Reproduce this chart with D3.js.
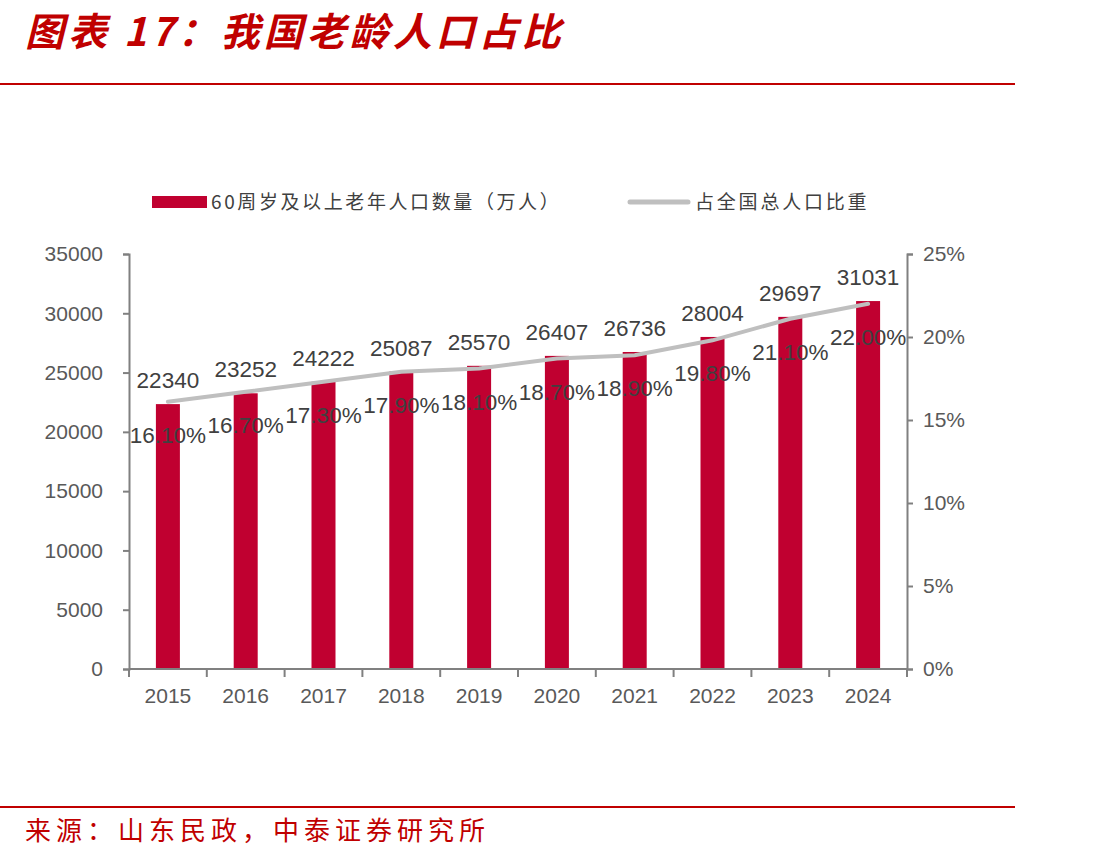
<!DOCTYPE html>
<html>
<head>
<meta charset="utf-8">
<script src="https://cdn.jsdelivr.net/npm/d3@7"></script>
<style>
  body { margin: 0; background: #fff; }
  svg { display: block; }
  .tick text { font-family: "Liberation Sans", Arial, sans-serif; font-size: 21px; fill: #595959; }
  .tick line, .domain { stroke: #808080; stroke-width: 2; }
</style>
</head>
<body>
<svg id="chart" width="1110" height="860"></svg>
<script>
  const years = ["2015", "2016", "2017", "2018", "2019", "2020", "2021", "2022", "2023", "2024"];
  const elderly = [22340, 23252, 24222, 25087, 25570, 26407, 26736, 28004, 29697, 31031];
  const share = [16.1, 16.7, 17.3, 17.9, 18.1, 18.7, 18.9, 19.8, 21.1, 22.0];
  const leftTicks = [0, 5000, 10000, 15000, 20000, 25000, 30000, 35000];
  const rightTicks = [0, 5, 10, 15, 20, 25];

  const red = "#c00000";
  const barColor = "#c00030";
  const lineColor = "#bfbfbf";
  const cjk = '"Noto Sans CJK SC", sans-serif';

  const svg = d3.select("#chart");
  const m = { left: 129, right: 907, top: 254, bottom: 669 };

  // header / footer
  svg.append("text")
    .attr("x", 25).attr("y", 46)
    .attr("fill", red)
    .attr("font-family", cjk)
    .attr("font-size", 39)
    .attr("font-weight", "bold")
    .attr("font-style", "italic")
    .attr("letter-spacing", 4)
    .text("图表 17：我国老龄人口占比");
  svg.append("line")
    .attr("x1", 0).attr("x2", 1015).attr("y1", 84).attr("y2", 84)
    .attr("stroke", red).attr("stroke-width", 2);
  svg.append("line")
    .attr("x1", 0).attr("x2", 1015).attr("y1", 807).attr("y2", 807)
    .attr("stroke", red).attr("stroke-width", 2);
  svg.append("text")
    .attr("x", 25).attr("y", 840)
    .attr("fill", red)
    .attr("font-family", cjk)
    .attr("font-size", 26)
    .attr("letter-spacing", 5)
    .text("来源：山东民政，中泰证券研究所");

  const x = d3.scaleBand().domain(years).range([m.left, m.right]);
  const yL = d3.scaleLinear().domain([0, 35000]).range([m.bottom, m.top]);
  const yR = d3.scaleLinear().domain([0, 25]).range([m.bottom, m.top]);
  const barW = 24;

  // bars
  svg.append("g").selectAll("rect")
    .data(elderly)
    .join("rect")
      .attr("x", (d, i) => x(years[i]) + x.bandwidth() / 2 - barW / 2)
      .attr("y", d => yL(d))
      .attr("width", barW)
      .attr("height", d => m.bottom - yL(d))
      .attr("fill", barColor);

  // axes
  svg.append("g")
    .attr("transform", `translate(${m.left},0)`)
    .call(d3.axisLeft(yL).tickValues(leftTicks).tickSize(6).tickPadding(20).tickFormat(d3.format("d")));
  svg.append("g")
    .attr("transform", `translate(${m.right},0)`)
    .call(d3.axisRight(yR).tickValues(rightTicks).tickSize(6).tickPadding(10).tickFormat(d => d + "%"));

  const xAxis = svg.append("g").attr("transform", `translate(0,${m.bottom})`);
  xAxis.append("line")
    .attr("class", "domain")
    .attr("x1", m.left).attr("x2", m.right);
  xAxis.selectAll("line.tk")
    .data(d3.range(years.length + 1))
    .join("line")
      .attr("class", "tk")
      .attr("x1", i => m.left + i * x.step())
      .attr("x2", i => m.left + i * x.step())
      .attr("y1", 0).attr("y2", 8)
      .attr("stroke", "#808080").attr("stroke-width", 2);
  xAxis.selectAll("text")
    .data(years)
    .join("text")
      .attr("x", d => x(d) + x.bandwidth() / 2)
      .attr("y", 34)
      .attr("text-anchor", "middle")
      .attr("font-family", '"Liberation Sans", Arial, sans-serif')
      .attr("font-size", 21)
      .attr("fill", "#595959")
      .text(d => d);

  // share line
  const line = d3.line()
    .x((d, i) => x(years[i]) + x.bandwidth() / 2)
    .y(d => yR(d));
  svg.append("path")
    .datum(share)
    .attr("d", line)
    .attr("fill", "none")
    .attr("stroke", lineColor)
    .attr("stroke-width", 4)
    .attr("stroke-linecap", "round");

  // labels
  const labelFont = '"Liberation Sans", Arial, sans-serif';
  svg.append("g").selectAll("text")
    .data(elderly)
    .join("text")
      .attr("x", (d, i) => x(years[i]) + x.bandwidth() / 2)
      .attr("y", d => yL(d) - 16)
      .attr("text-anchor", "middle")
      .attr("font-family", labelFont)
      .attr("font-size", 22.5)
      .attr("fill", "#404040")
      .text(d => d);
  svg.append("g").selectAll("text")
    .data(share)
    .join("text")
      .attr("x", (d, i) => x(years[i]) + x.bandwidth() / 2)
      .attr("y", d => yR(d) + 41)
      .attr("text-anchor", "middle")
      .attr("font-family", labelFont)
      .attr("font-size", 22.5)
      .attr("fill", "#404040")
      .text(d => d.toFixed(2) + "%");

  // legend
  const lg = svg.append("g");
  lg.append("rect")
    .attr("x", 152).attr("y", 196).attr("width", 55).attr("height", 12)
    .attr("fill", barColor);
  lg.append("text")
    .attr("x", 211).attr("y", 209)
    .attr("font-family", cjk).attr("font-size", 19).attr("fill", "#404040")
    .attr("letter-spacing", 2.6)
    .text("60周岁及以上老年人口数量（万人）");
  lg.append("line")
    .attr("x1", 630).attr("x2", 688).attr("y1", 202).attr("y2", 202)
    .attr("stroke", lineColor).attr("stroke-width", 5).attr("stroke-linecap", "round");
  lg.append("text")
    .attr("x", 695).attr("y", 209)
    .attr("font-family", cjk).attr("font-size", 19).attr("fill", "#404040")
    .attr("letter-spacing", 2.8)
    .text("占全国总人口比重");
</script>
</body>
</html>
